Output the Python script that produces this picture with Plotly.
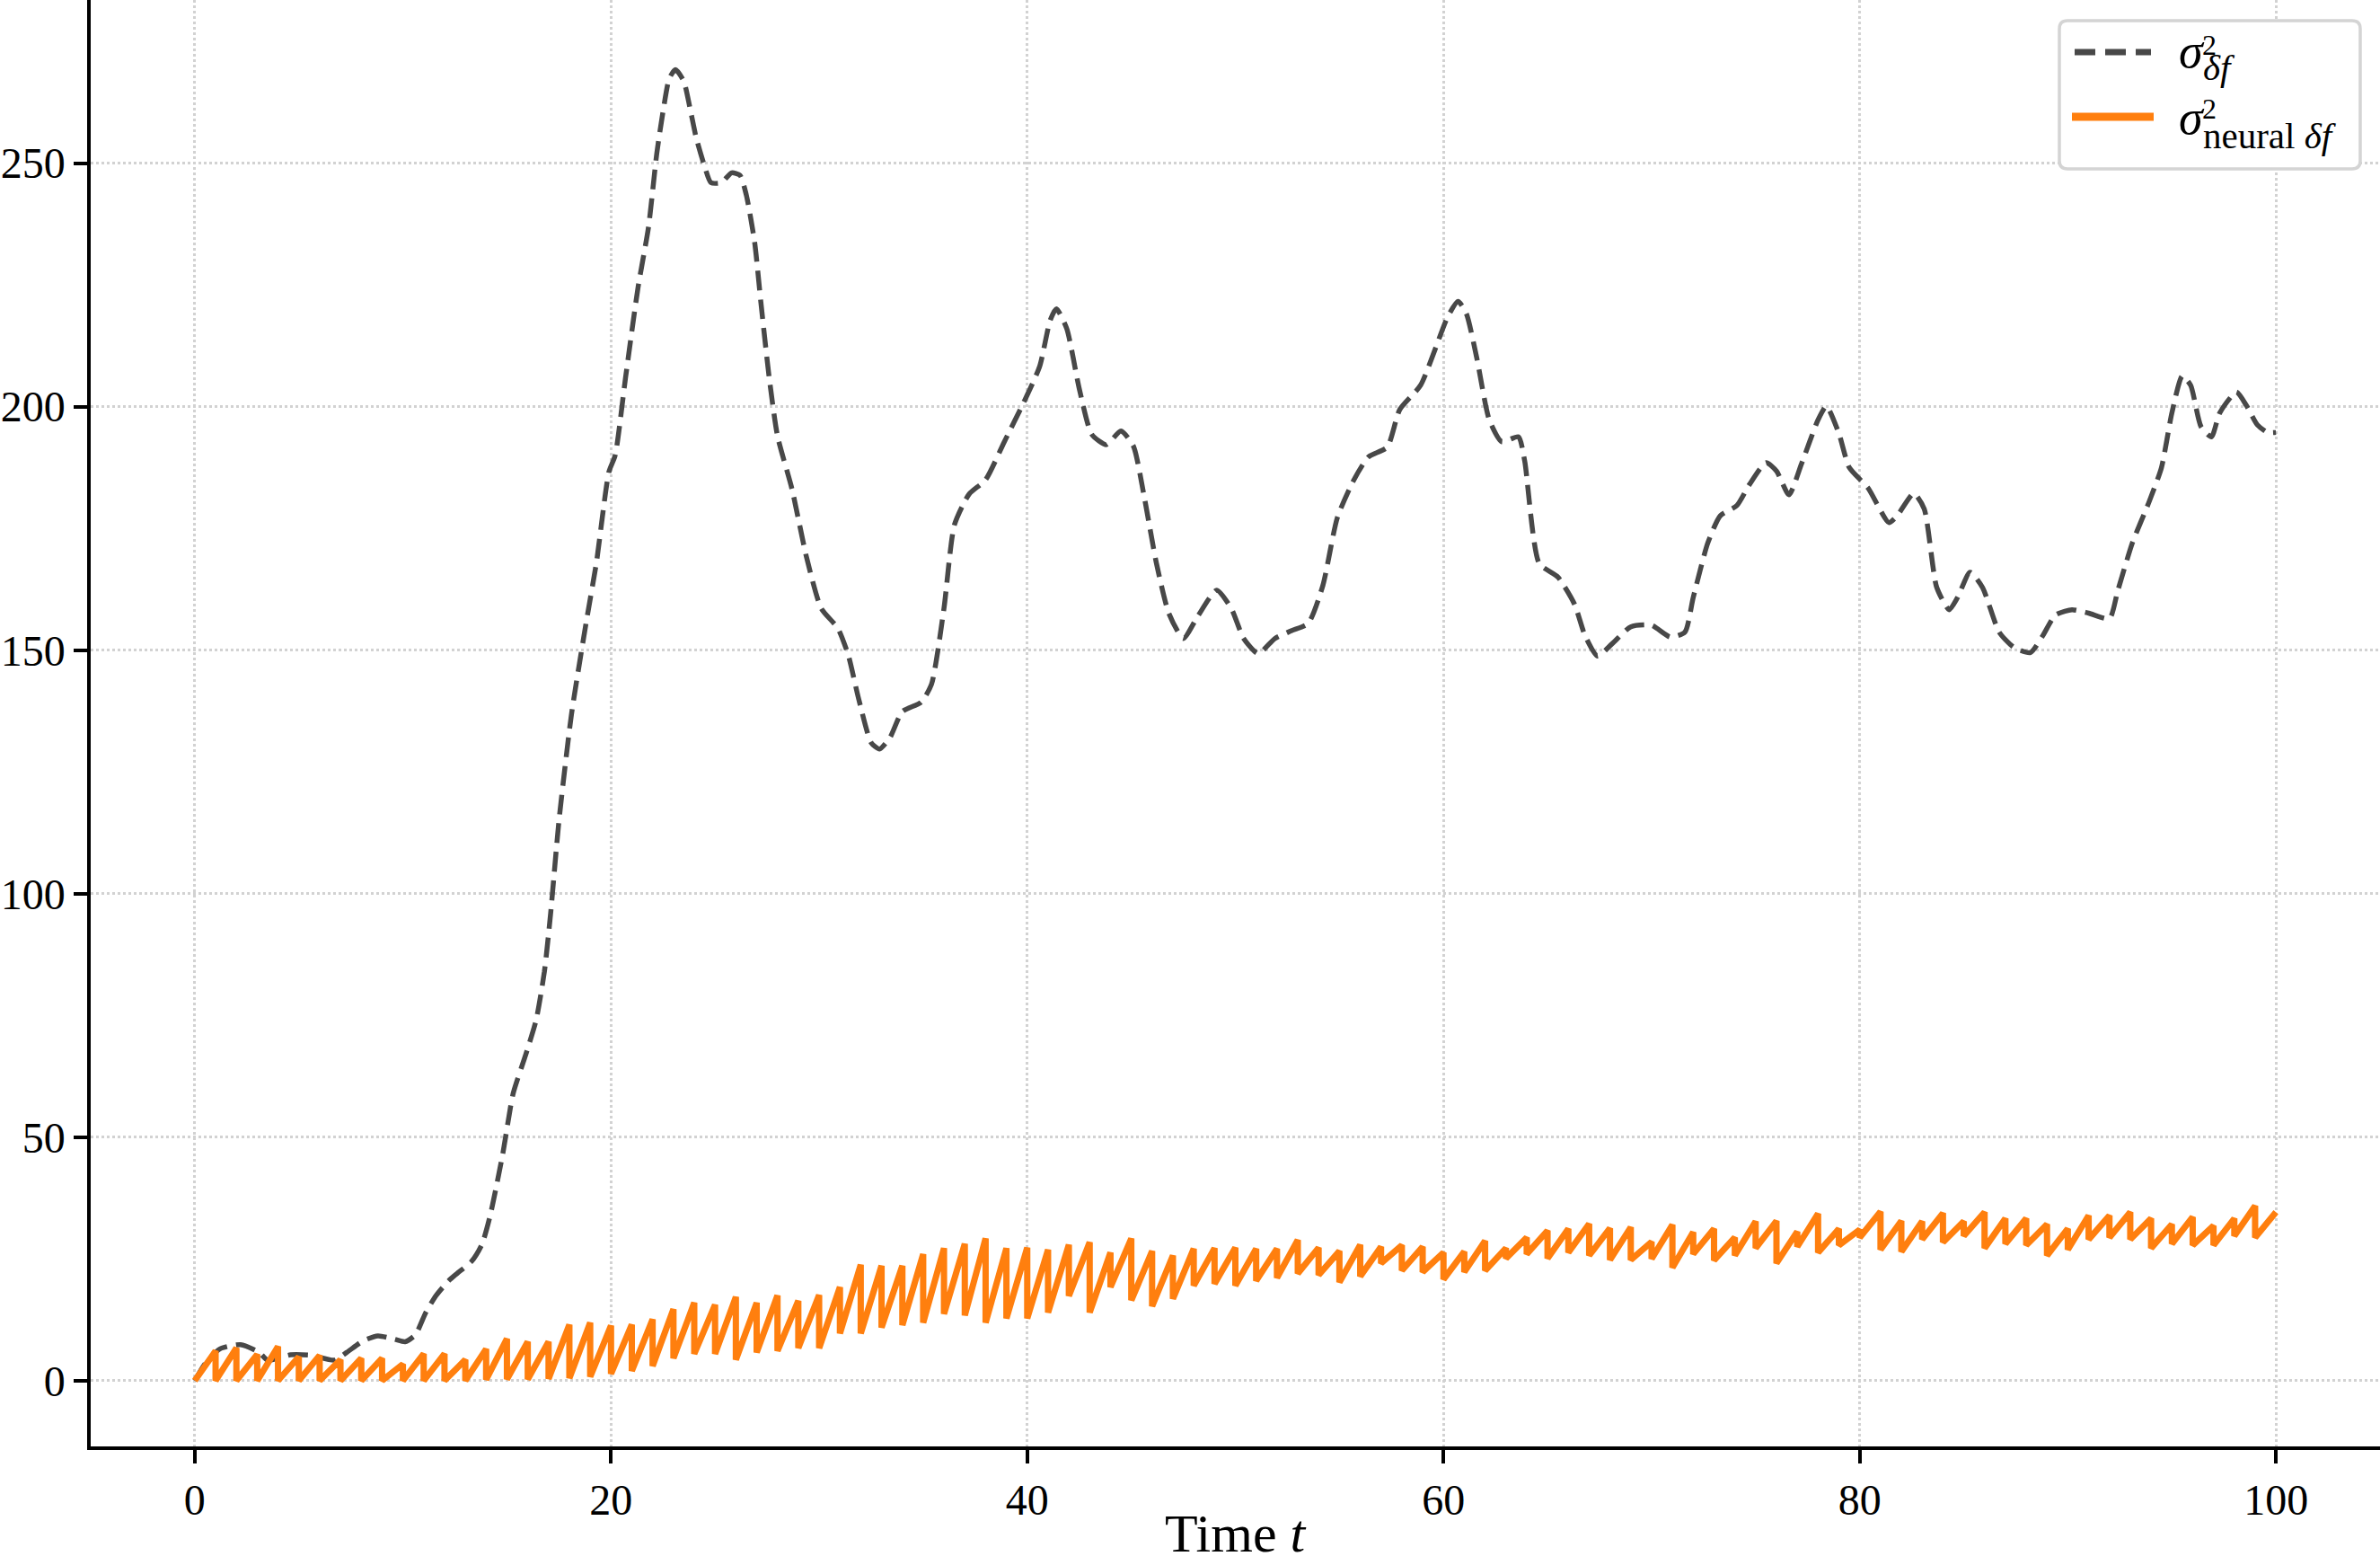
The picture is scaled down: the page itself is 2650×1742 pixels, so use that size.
import plotly.graph_objects as go

# ---- data ----
t_sigma = [0, 0.5, 1.2, 2.2, 3.1, 3.5, 4.6, 5.6, 6.7, 7.3, 8.1, 8.8, 9.6, 10.1, 10.6, 11.1, 11.6, 12.2,
           12.6, 13.3, 13.8, 14.2, 14.8, 15.3, 15.9, 16.4, 16.8, 17.1, 17.5, 18.1, 18.8, 19.3, 19.9, 20.2,
           20.7, 21.3, 21.8, 22.2, 22.5, 22.8, 23.1, 23.5, 23.8, 24.1, 24.5, 24.8, 25.3, 25.8, 26.2, 26.5,
           26.9, 27.2, 27.6, 28.0, 28.7, 29.4, 30.1, 30.9, 31.4, 31.9, 32.5, 32.9, 33.4, 34.0, 34.9, 35.4,
           36.0, 36.5, 37.2, 38.0, 38.9, 39.8, 40.6, 41.1, 41.4, 41.9, 42.5, 43.1, 43.8, 44.5, 45.1, 45.6,
           46.2, 46.8, 47.5, 48.2, 49.1, 49.8, 50.4, 51.1, 51.9, 52.7, 53.5, 54.2, 54.9, 55.7, 56.4, 57.3,
           57.9, 58.9, 60.2, 60.7, 61.1, 61.6, 62.2, 62.8, 63.6, 63.9, 64.6, 65.5, 66.3, 66.8, 67.4, 68.1,
           69.0, 70.0, 70.9, 71.6, 72.0, 72.7, 73.3, 74.1, 74.7, 75.5, 76.0, 76.6, 77.2, 78.0, 78.4, 79.0,
           79.5, 80.4, 81.4, 81.8, 82.6, 83.1, 83.7, 84.3, 84.7, 85.3, 85.9, 86.7, 87.4, 88.2, 88.8, 89.4,
           90.2, 91.0, 92.0, 92.4, 93.1, 93.9, 94.5, 95.0, 95.5, 95.9, 96.4, 96.9, 97.3, 98.1, 98.6, 99.1,
           99.6, 100.0]
v_sigma = [0, 3.5, 6.5, 7.4, 5.8, 4.2, 5.3, 5.2, 4.2, 5.8, 8.2, 9.2, 8.5, 8.0, 9.4, 14.0, 17.5, 20.5,
           22.0, 24.5, 28.0, 34, 46.6, 59, 66.9, 74, 84, 96, 115, 136.8, 155.5, 168, 186.6, 190,
           206, 224.5, 236.8, 252, 260.6, 267.4, 269.2, 266.8, 261.2, 255.1, 249.3, 246, 246, 248, 247.5, 243.5,
           233.8, 221.5, 206, 194, 183, 169, 158.6, 154.5, 149, 140, 131, 129.7, 132, 137.4, 139.3, 143,
           158.6, 175.7, 182, 185, 192.8, 200.6, 208.3, 217.7, 220.1, 216, 203.7, 194.3, 192.2, 195, 191.9, 182,
           168, 157.6, 152.4, 157, 162.3, 158.6, 152.4, 149.3, 152.4, 154, 155.5, 163.2, 177.2, 185, 189.7, 191.7,
           199.4, 204.4, 218.4, 221.6, 219.1, 210, 197.3, 192.8, 193.8, 188.9, 167.8, 165, 159.4, 153, 148.8, 151.3,
           154.8, 155.1, 152.7, 153.7, 160.8, 172, 177.6, 179.7, 184, 188.5, 186.8, 181.9, 188.2, 197.3, 200.1, 194.5,
           187.5, 183.3, 176.2, 177.6, 182.2, 179, 162.9, 158.3, 160.8, 166, 162.9, 153.7, 150.6, 149.5, 153, 157.2,
           158.3, 157.6, 156.5, 162.2, 172, 180.4, 187.5, 198.7, 206.3, 204.4, 195.9, 193.8, 198.7, 203, 200.1, 196.3,
           194.7, 194.7]

# neural estimate: value just after each reset (t = 0..99) and just before reset (t = 1..100)
neural_trough = [0, 0, 0, 0, 0, 0, 0, 0, 0, 0,
                 0, 0, 0, 0, 0.2, 0.3, 0.3, 0.4, 0.5, 0.8,
                 1.4, 2.0, 3.0, 4.6, 5.5, 5.5, 4.3, 5.8, 6.1, 6.7,
                 6.7, 9.7, 9.7, 10.9, 11.4, 11.9, 13.7, 13.4, 11.9, 12.8,
                 12.8, 14.0, 17.4, 14.0, 19.2, 16.5, 15.3, 16.8, 19.5, 19.9,
                 19.5, 20.5, 21.1, 22.0, 21.7, 20.2, 21.4, 24.1, 22.6, 22.3,
                 20.8, 22.3, 22.6, 25.1, 26.0, 25.1, 26.3, 25.7, 24.8, 24.8,
                 25.0, 23.2, 26.0, 24.7, 25.7, 27.2, 24.1, 27.5, 26.3, 27.8,
                 29.4, 26.9, 26.5, 29.0, 28.4, 29.7, 27.2, 28.1, 27.8, 25.7,
                 26.9, 29.0, 29.4, 29.0, 27.2, 28.1, 27.8, 27.8, 29.7, 29.4]
neural_peak = [6.1, 6.7, 5.4, 7.0, 4.9, 5.2, 4.3, 4.6, 4.6, 3.4,
               5.5, 5.5, 4.3, 6.5, 8.6, 8.0, 8.0, 11.5, 11.9, 11.3,
               11.5, 12.6, 14.7, 16.0, 15.6, 17.2, 16.0, 17.5, 16.4, 17.6,
               19.2, 23.8, 23.6, 23.6, 26.0, 27.2, 28.1, 29.2, 27.2, 27.3,
               26.9, 27.9, 28.4, 26.3, 29.2, 26.6, 25.7, 27.1, 27.2, 27.3,
               27.1, 27.1, 28.9, 27.3, 26.6, 27.9, 27.5, 27.8, 27.5, 26.3,
               26.5, 28.7, 27.2, 29.4, 30.8, 31.2, 32.2, 31.3, 31.5, 28.5,
               32.0, 30.5, 31.2, 29.4, 32.7, 32.8, 30.6, 34.3, 31.2, 31.0,
               34.7, 32.8, 32.7, 34.4, 32.7, 34.6, 33.3, 33.3, 32.1, 31.2,
               33.9, 33.9, 34.6, 33.3, 32.1, 33.6, 31.8, 33.3, 35.9, 34.6]

x_ticks = [0, 20, 40, 60, 80, 100]
y_ticks = [0, 50, 100, 150, 200, 250]

series_names = ["σ²_δf", "σ²_neural δf"]
legend_sub = ["<i>δf</i>", "neural <i>δf</i>"]
x_title = "Time <i>t</i>"

# build sawtooth polyline from the per-cycle values
t_neural, v_neural = [], []
for k in range(len(neural_trough)):
    t_neural += [k, k + 1]
    v_neural += [neural_trough[k], neural_peak[k]]

FONT = "Liberation Serif"
W, H = 2650, 1742
ML, MR, MT, MB = 101, 0, 0, 132
PW, PH = W - ML - MR, H - MT - MB

def px(x):  # figure pixel -> paper x
    return (x - ML) / PW

def py(y):  # figure pixel -> paper y
    return 1 - (y - MT) / PH

DASH_COLOR = "#484848"
ORANGE = "#ff7f0e"

fig = go.Figure()
fig.add_trace(go.Scatter(
    x=t_sigma, y=v_sigma, mode="lines", name=series_names[0], showlegend=False,
    line=dict(color=DASH_COLOR, width=5.5, dash="22px,10px", shape="spline", smoothing=0.6),
))
fig.add_trace(go.Scatter(
    x=t_neural, y=v_neural, mode="lines", name=series_names[1], showlegend=False,
    line=dict(color=ORANGE, width=7),
))

axis_common = dict(
    showline=True, linecolor="black", linewidth=3.5, mirror=False,
    ticks="outside", ticklen=15, tickwidth=3.5, tickcolor="black",
    showgrid=True, gridcolor="#d2d2d2", gridwidth=2.5, griddash="dot",
    zeroline=False, tickfont=dict(family=FONT, size=48, color="black"),
    automargin=False,
)

# ---- hand-drawn legend (matplotlib style: long samples, stacked sup/sub) ----
bx0, bx1, by0, by1, r = 2293, 2628, 23, 188, 9
path = (f"M {px(bx0 + r)} {py(by0)} L {px(bx1 - r)} {py(by0)} "
        f"Q {px(bx1)} {py(by0)} {px(bx1)} {py(by0 + r)} "
        f"L {px(bx1)} {py(by1 - r)} Q {px(bx1)} {py(by1)} {px(bx1 - r)} {py(by1)} "
        f"L {px(bx0 + r)} {py(by1)} Q {px(bx0)} {py(by1)} {px(bx0)} {py(by1 - r)} "
        f"L {px(bx0)} {py(by0 + r)} Q {px(bx0)} {py(by0)} {px(bx0 + r)} {py(by0)} Z")
shapes = [
    dict(type="path", xref="paper", yref="paper", path=path,
         fillcolor="white", line=dict(color="#d4d4d4", width=3.5), layer="above"),
    dict(type="line", xref="paper", yref="paper", x0=px(2310), x1=px(2395), y0=py(58), y1=py(58),
         line=dict(color=DASH_COLOR, width=7, dash="23px,11px"), layer="above"),
    dict(type="line", xref="paper", yref="paper", x0=px(2307), x1=px(2398), y0=py(130), y1=py(130),
         line=dict(color=ORANGE, width=9), layer="above"),
]

annotations = []
for i, (yc_sig, yc_sup, yc_sub) in enumerate([(57, 50, 75), (131, 121, 151)]):
    annotations.append(dict(text="<i>σ</i>", xref="paper", yref="paper", x=px(2424), y=py(yc_sig),
                            xanchor="left", yanchor="middle", showarrow=False,
                            font=dict(family=FONT, size=54, color="black")))
    annotations.append(dict(text="2", xref="paper", yref="paper", x=px(2450), y=py(yc_sup),
                            xanchor="left", yanchor="middle", showarrow=False,
                            font=dict(family=FONT, size=32, color="black")))
    annotations.append(dict(text=legend_sub[i], xref="paper", yref="paper", x=px(2451), y=py(yc_sub),
                            xanchor="left", yanchor="middle", showarrow=False,
                            font=dict(family=FONT, size=41, color="black")))

# x-axis title placed explicitly below the tick labels
annotations.append(dict(text=x_title, xref="paper", yref="paper", x=0.5, y=py(1707),
                        xanchor="center", yanchor="middle", showarrow=False,
                        font=dict(family=FONT, size=60, color="black")))

fig.update_layout(
    width=W, height=H,
    margin=dict(l=ML, r=MR, t=MT, b=MB, autoexpand=False),
    paper_bgcolor="white", plot_bgcolor="white",
    font=dict(family=FONT, color="black"),
    xaxis=dict(range=[-5, 105], tickvals=x_ticks, **axis_common),
    yaxis=dict(range=[-13.5, 283.5], tickvals=y_ticks, **axis_common),
    shapes=shapes,
    annotations=annotations,
    showlegend=False,
)

fig.write_html("out.html")
